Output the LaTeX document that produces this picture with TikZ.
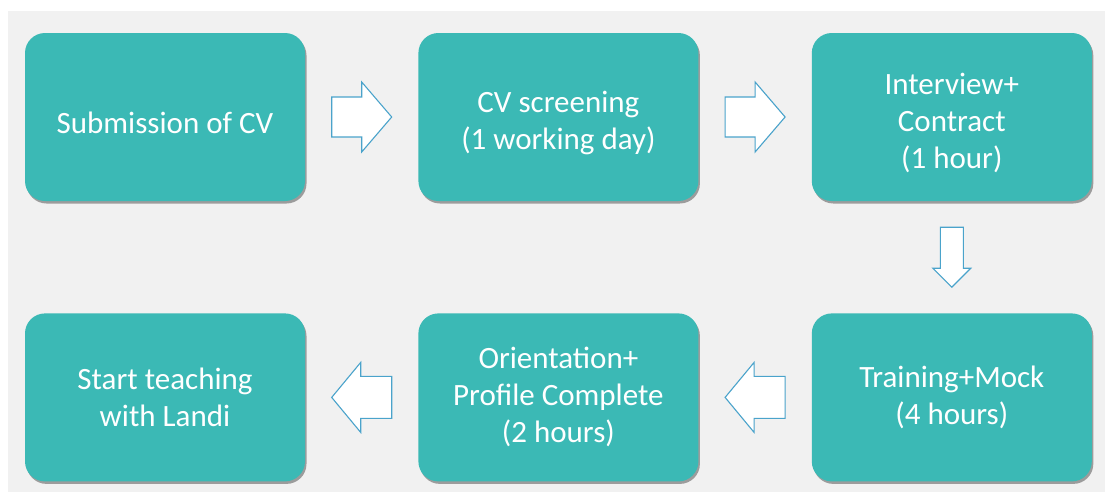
\documentclass[tikz,border=0pt]{standalone}
\usepackage{fontspec}
\setmainfont{Carlito}
\usepackage{xcolor}
\definecolor{stepteal}{HTML}{3BB9B5}
\definecolor{arrowblue}{HTML}{4AA3CB}
\definecolor{panelgray}{HTML}{F1F1F1}
\usetikzlibrary{positioning,calc,shadows}

% top row text sits a little lower in its box
\newcommand{\lowfirst}{\rule{0pt}{34pt}}

\tikzset{
  stagebox/.style={rounded corners=20pt, fill=stepteal, draw=none,
    minimum width=280pt, minimum height=168pt, align=center,
    text=white, font=\fontsize{31}{37}\selectfont,
    drop shadow={shadow xshift=1.5pt, shadow yshift=-2.5pt, fill=black, opacity=.35}},
  arrowline/.style={draw=arrowblue, fill=white, line width=1.1pt},
  % block arrow pointing along +x: length, shaft half width, head half width, head length
  pics/blockarrow/.style n args={4}{code={
    \draw[arrowline] (-#1/2,-#2) -- (#1/2-#4,-#2) -- (#1/2-#4,-#3) -- (#1/2,0)
      -- (#1/2-#4,#3) -- (#1/2-#4,#2) -- (-#1/2,#2) -- cycle;
  }}
}

\begin{document}
\begin{tikzpicture}[x=1pt,y=-1pt]
  \useasboundingbox (0,0) rectangle (1105,499);
  \fill[panelgray] (8,11) rectangle (1105,492);

  % top row
  \node[stagebox] (submit) at (165,117) {\lowfirst Submission of CV};
  \node[stagebox, right=113pt of submit] (screen) {\lowfirst CV screening\\(1 working day)};
  \node[stagebox, right=113pt of screen] (interview) {\lowfirst Interview+\\Contract\\(1 hour)};

  % bottom row
  \node[stagebox, below=112pt of interview] (training) {Training+Mock\\(4 hours)};
  \node[stagebox, left=113pt of training] (orient) {Orientation+\\Profile Complete\\(2 hours)};
  \node[stagebox, left=113pt of orient] (teach) {Start teaching\\with Landi};

  % arrows between the stages
  \coordinate (gapA) at ($(submit.east)!.5!(screen.west)$);
  \coordinate (gapB) at ($(screen.east)!.5!(interview.west)$);
  \coordinate (gapC) at ($(interview.south)!.5!(training.north)$);
  \coordinate (gapD) at ($(training.west)!.5!(orient.east)$);
  \coordinate (gapE) at ($(orient.west)!.5!(teach.east)$);
  \pic at (gapA) {blockarrow={60}{20}{35}{30}};
  \pic at (gapB) {blockarrow={60}{20}{35}{30}};
  \pic[rotate=-90] at (gapC) {blockarrow={60}{11.5}{19}{19}};
  \pic[rotate=180] at (gapD) {blockarrow={60}{21}{35}{29}};
  \pic[rotate=180] at (gapE) {blockarrow={60}{21}{35}{29}};
\end{tikzpicture}
\end{document}
